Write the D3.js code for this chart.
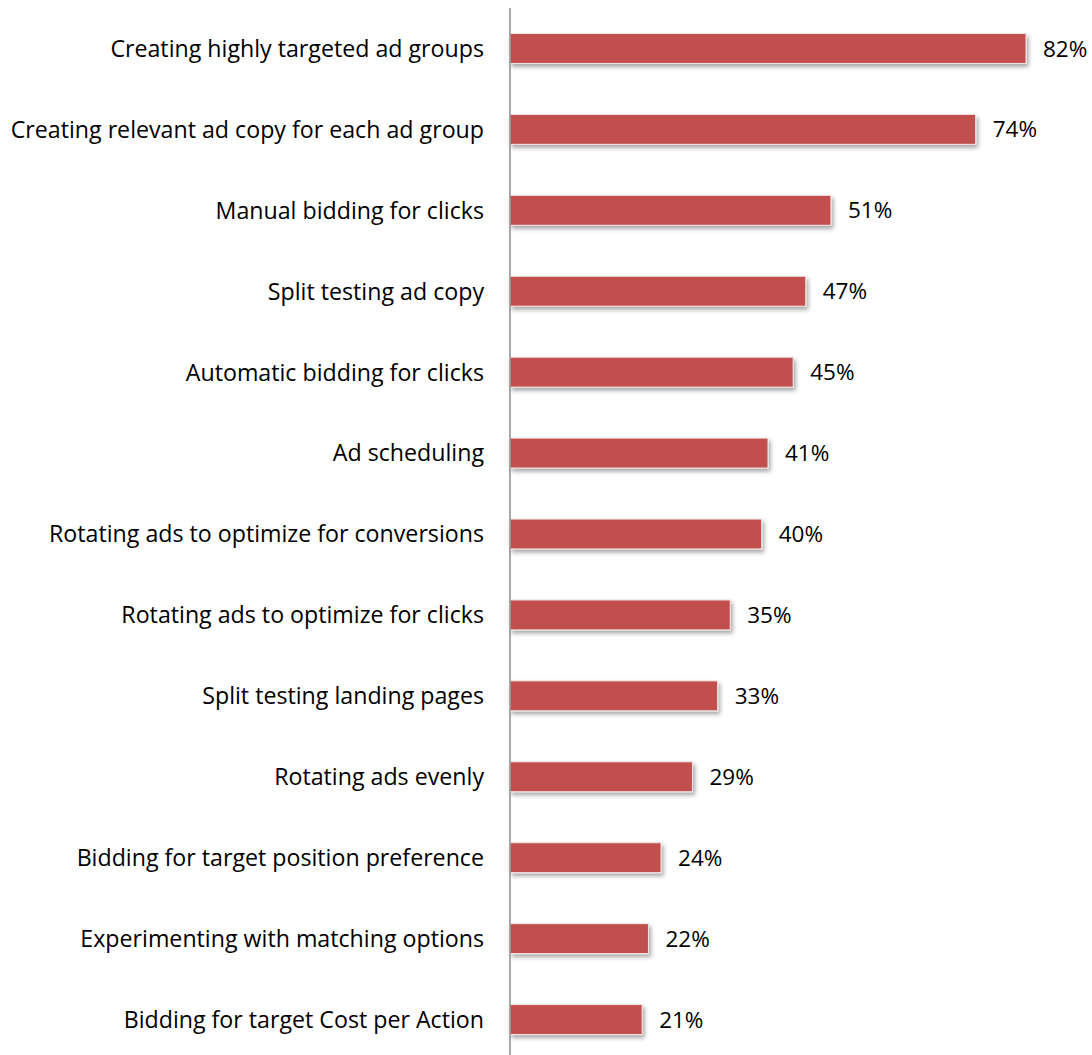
<!DOCTYPE html>
<html><head><meta charset="utf-8">
<script src="https://cdn.jsdelivr.net/npm/d3@7"></script>
<style>body{margin:0;background:#fff;} text{font-family:"Open Sans", sans-serif;}</style>
</head><body>
<svg id="c" width="1092" height="1055"></svg>
<script>
const categories = [
  "Creating highly targeted ad groups",
  "Creating relevant ad copy for each ad group",
  "Manual bidding for clicks",
  "Split testing ad copy",
  "Automatic bidding for clicks",
  "Ad scheduling",
  "Rotating ads to optimize for conversions",
  "Rotating ads to optimize for clicks",
  "Split testing landing pages",
  "Rotating ads evenly",
  "Bidding for target position preference",
  "Experimenting with matching options",
  "Bidding for target Cost per Action"
];
const values = [82, 74, 51, 47, 45, 41, 40, 35, 33, 29, 24, 22, 21];

const svg = d3.select("#c");
const defs = svg.append("defs");
const f = defs.append("filter").attr("id","sh").attr("x","-5%").attr("y","-30%").attr("width","115%").attr("height","180%");
f.append("feDropShadow").attr("dx",2).attr("dy",3).attr("stdDeviation",2).attr("flood-color","#000").attr("flood-opacity",0.35);

const x0 = 510;
const x = d3.scaleLinear().domain([0, 82]).range([x0, 1026]);
const y = d3.scaleBand().domain(categories).range([8, 1060]).paddingInner(0.63).paddingOuter(0.315);

svg.selectAll("rect.bar").data(categories).join("rect")
  .attr("class","bar")
  .attr("x", x(0))
  .attr("y", d => y(d))
  .attr("width", (d,i) => x(values[i]) - x(0))
  .attr("height", y.bandwidth())
  .attr("fill", "#C0504D")
  .attr("stroke", "#f3e6e6")
  .attr("stroke-width", 1)
  .attr("filter", "url(#sh)");

svg.append("line").attr("x1", x0).attr("x2", x0).attr("y1", 8).attr("y2", 1055)
  .attr("stroke", "#8c8c8c").attr("stroke-width", 1.5);

svg.selectAll("text.cat").data(categories).join("text")
  .attr("class","cat")
  .attr("x", x0 - 26)
  .attr("y", d => y(d) + y.bandwidth()/2)
  .attr("dy", "0.36em")
  .attr("text-anchor", "end")
  .attr("font-size", 23.2)
  .attr("fill", "#000")
  .text(d => d);

svg.selectAll("text.val").data(categories).join("text")
  .attr("class","val")
  .attr("x", (d,i) => x(values[i]) + 17)
  .attr("y", d => y(d) + y.bandwidth()/2)
  .attr("dy", "0.36em")
  .attr("font-size", 22.5)
  .attr("fill", "#000")
  .text((d,i) => values[i] + "%");
</script>
</body></html>
